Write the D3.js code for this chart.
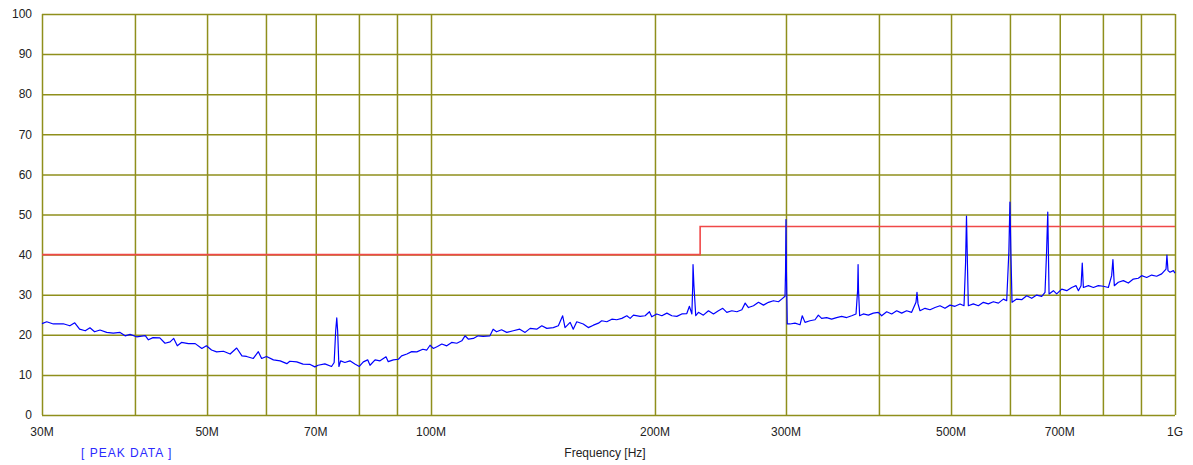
<!DOCTYPE html>
<html>
<head>
<meta charset="utf-8">
<script src="https://cdn.jsdelivr.net/npm/d3@7"></script>
<style>
  html, body { margin: 0; padding: 0; background: #ffffff; }
  svg { display: block; }
  text { font-family: "Liberation Sans", Arial, sans-serif; }
</style>
</head>
<body>
<svg id="chart" width="1193" height="465"></svg>
<script>
// ---------- DATA ----------
const gridFreqs = [30, 40, 50, 60, 70, 80, 90, 100, 200, 300, 400, 500, 600, 700, 800, 900, 1000];
const xTickFreqs = [30, 50, 70, 100, 200, 300, 500, 700, 1000];
const xTickLabels = ["30M", "50M", "70M", "100M", "200M", "300M", "500M", "700M", "1G"];
const yTicks = [0, 10, 20, 30, 40, 50, 60, 70, 80, 90, 100];

const limitFreq = [30, 230, 230, 1000];
const limitLevel = [40, 40, 47, 47];

// Peak trace, frequency in MHz
const peakFreq = [
  30.0, 30.44, 31.07, 32.04, 32.7, 33.2, 33.7, 34.3, 34.8, 35.3, 35.9, 36.65, 37.4, 38.2, 38.8, 39.4,
  40.2, 41.3, 41.7, 42.3, 43.2, 43.9, 44.6, 45.1, 45.6, 46.2, 47.2, 48.2, 49.2, 49.9, 50.7, 51.5,
  52.6, 53.7, 54.8, 55.7, 56.5, 57.7, 58.6, 59.2, 60.1, 61.4, 62.7, 64.0, 64.6, 66.0, 67.3, 68.8,
  69.8, 70.5,
  72.0, 73.5, 74.1, 74.45, 74.7, 74.9, 75.2, 75.6, 76.6, 77.8, 79.0, 80.1, 81.1, 82.2, 82.8, 84.1,
  85.4, 87.0, 87.6, 89.0, 90.4, 91.3, 92.8, 94.2, 95.7, 97.5, 98.7, 99.7, 100.7, 102.0, 103.4, 105.0,
  106.6, 108.3, 110.0, 111.1, 112.3, 114.0, 115.7, 117.5, 120.0, 121.2, 122.5, 124.4, 126.4, 129.0,
  131.6, 133.8, 135.9, 138.7, 140.9, 143.1, 146.0, 148.3, 150.3, 151.4, 153.8, 155.3, 157.0,
  160.2, 162.7, 165.3, 167.9, 169.6, 172.3, 175.0, 177.7, 180.5, 183.3, 185.2, 187.1, 191.0, 194.0,
  196.6, 198.0, 201.1, 204.3, 207.5, 210.7, 214.0, 217.3, 220.7, 222.5, 224.2, 224.8, 225.0, 225.6,
  226.9, 228.8, 232.3, 236.0, 239.7, 243.4, 246.7, 249.8, 253.7, 257.7, 261.7, 264.4, 267.1, 271.3,
  275.5, 279.8, 284.2, 288.6, 293.1, 296.0, 299.1, 299.6, 300.0, 300.4, 301.2,
  303.7, 308.5, 313.3, 315.5, 318.2, 323.1, 328.2, 331.6, 335.0, 340.2, 345.5, 350.9, 356.4, 362.0,
  367.6, 372.6, 374.5, 375.0, 375.5, 376.8, 381.1, 387.1, 393.1, 399.2, 403.4, 409.7, 416.1, 422.6,
  429.2, 435.8, 442.6, 448.6, 450.0, 451.4, 454.2, 461.3, 468.5, 475.8, 483.2, 490.7, 498.4, 506.2,
  514.1, 520.5, 523.0, 524.5, 526.0, 527.5, 535.7, 544.1, 552.6, 561.2, 570.0, 578.9, 587.9, 594.0,
  598.0, 600.0, 601.8, 603.9, 612.6, 622.2, 631.9, 641.8, 651.8, 662.0, 668.8, 672.0, 674.5, 677.2,
  686.3, 693.4, 704.3, 715.3, 726.4, 736.2, 741.6, 747.7, 750.5, 753.1, 764.9, 776.8, 788.7, 801.1,
  813.6, 822.0, 825.2, 828.8, 839.1, 852.2, 865.5, 879.0, 892.7, 902.0, 916.1, 930.3, 944.8, 959.6,
  972.6, 975.3, 978.6, 984.7, 994.9, 1000
];
const peakLevel = [
  22.8, 23.25, 22.7, 22.75, 22.25, 23, 21.4, 21, 21.75, 20.75, 21.2, 20.6, 20.4, 20.6, 19.75, 20.1,
  19.5, 19.8, 18.75, 19.3, 19.25, 17.9, 18.25, 19.1, 17.25, 18.1, 17.8, 17.8, 16.6, 17.25, 16.2, 15.75,
  15.9, 15.2, 16.7, 14.75, 14.6, 14.1, 15.8, 14.1, 14.6, 13.75, 13.5, 12.8, 13.4, 13.25, 12.7, 12.6,
  12, 12.4,
  12.75, 12.1, 13.1, 21, 24.2, 21, 12.1, 13.5, 13.1, 13.5, 12.7, 12.1, 13.25, 13.75, 12.4, 13.75,
  13.5, 14.5, 13.3, 13.75, 13.9, 14.75, 15.2, 15.8, 15.75, 16.4, 16.2, 17.4, 16.6, 17.1, 17.7, 17.25,
  18.1, 17.9, 18.5, 19.75, 18.9, 19.1, 19.75, 19.6, 19.75, 21.4, 20.75, 21.25, 20.6, 21,
  21.4, 20.6, 21.6, 21.4, 22.25, 21.6, 21.8, 22.25, 24.75, 21.8, 23.1, 21.4, 23.25,
  22.7, 21.8, 22.4, 22.9, 23.5, 23.25, 23.9, 23.75, 24.1, 24.75, 24.1, 24.9, 24.6, 24.75,
  25.75, 24.5, 25.2, 24.75, 25.4, 24.75, 24.6, 25.2, 25.3, 27.1, 25.2, 32.4, 37.5, 32.4,
  24.75, 25.6, 24.9, 26, 25.2, 26, 26.6, 25.6, 26, 25.75, 26.25, 27.9, 26.8, 27.25,
  28.1, 27.4, 28.1, 28.5, 28.25, 28.9, 29.6, 35.8, 48.75, 35.8, 22.7,
  22.7, 22.9, 22.5, 24.75, 23.1, 23.5, 23.75, 24.9, 24.1, 24.3, 23.9, 24.3, 24.6, 24.3,
  24.75, 25.2, 31.25, 37.5, 31.25, 24.75, 25.2, 24.9, 25.4, 25.6, 24.75, 25.75, 25.2, 26,
  25.4, 26, 25.6, 28.1, 30.6, 27.7, 26, 26.6, 26.25, 26.8, 27.25, 26.6, 27.4, 27.1,
  27.7, 27.25, 37.9, 49.6, 37.9, 27.25, 27.7, 27.25, 28.1, 27.7, 28.25, 27.9, 28.9, 28.5,
  40.75, 53.1, 40.2, 28.1, 28.9, 28.75, 29.75, 29.1, 29.9, 29.6, 30.6, 40.6, 50.6, 30.2,
  31, 30.2, 31.4, 31, 31.8, 32.25, 31, 32.25, 37.9, 31.8, 32.25, 31.8, 32.25, 32.1,
  31.8, 34.75, 38.75, 32.25, 33.1, 33.5, 32.9, 33.9, 34.1, 34.75, 34.3, 34.9, 34.6, 35.2,
  36.4, 39.9, 36, 35.6, 36, 35.4
];

// ---------- LAYOUT ----------
const svg = d3.select("#chart");
const mLeft = 42, mRight = 1175, mTop = 14, mBottom = 415;

const x = d3.scaleLog().domain([30, 1000]).range([mLeft, mRight]);
const y = d3.scaleLinear().domain([0, 100]).range([mBottom, mTop]);

const gridColor = "#8f8f1c";

// vertical grid
svg.append("g").attr("transform", `translate(0,${mBottom})`)
  .call(d3.axisBottom(x).tickValues(gridFreqs).tickSize(-(mBottom - mTop)).tickFormat(""))
  .call(g => g.select(".domain").remove())
  .call(g => g.selectAll("line").attr("stroke", gridColor).attr("stroke-width", 1.5));

// horizontal grid
svg.append("g").attr("transform", `translate(${mLeft},0)`)
  .call(d3.axisLeft(y).tickValues(yTicks).tickSize(-(mRight - mLeft)).tickFormat(""))
  .call(g => g.select(".domain").remove())
  .call(g => g.selectAll("line").attr("stroke", gridColor).attr("stroke-width", 1.5));

// y labels
svg.append("g").selectAll("text").data(yTicks).join("text")
  .attr("x", 32).attr("y", d => y(d)).attr("dy", "0.35em")
  .attr("text-anchor", "end").attr("font-size", 12).attr("fill", "#222")
  .text(d => d);

// x labels
svg.append("g").selectAll("text").data(xTickFreqs).join("text")
  .attr("x", d => x(d)).attr("y", 432).attr("dy", "0.35em")
  .attr("text-anchor", "middle").attr("font-size", 12).attr("fill", "#222")
  .text((d, i) => xTickLabels[i]);

// limit line
const limitData = limitFreq.map((f, i) => [f, limitLevel[i]]);
svg.append("path").datum(limitData)
  .attr("fill", "none").attr("stroke", "#f04848").attr("stroke-width", 1.6)
  .attr("d", d3.line().x(d => x(d[0])).y(d => y(d[1])));

// peak trace
const peakData = peakFreq.map((f, i) => [f, peakLevel[i]]);
svg.append("path").datum(peakData)
  .attr("fill", "none").attr("stroke", "#0000ff").attr("stroke-width", 1.2)
  .attr("stroke-linejoin", "round")
  .attr("d", d3.line().x(d => x(d[0])).y(d => y(d[1])));

// axis title
svg.append("text").attr("x", 605).attr("y", 453).attr("dy", "0.35em")
  .attr("text-anchor", "middle").attr("font-size", 12).attr("fill", "#222")
  .text("Frequency [Hz]");

// legend label
svg.append("text").attr("x", 81).attr("y", 453).attr("dy", "0.35em")
  .attr("font-size", 12).attr("fill", "#2a2aff").attr("letter-spacing", 1)
  .text("[ PEAK DATA ]");
</script>
</body>
</html>
